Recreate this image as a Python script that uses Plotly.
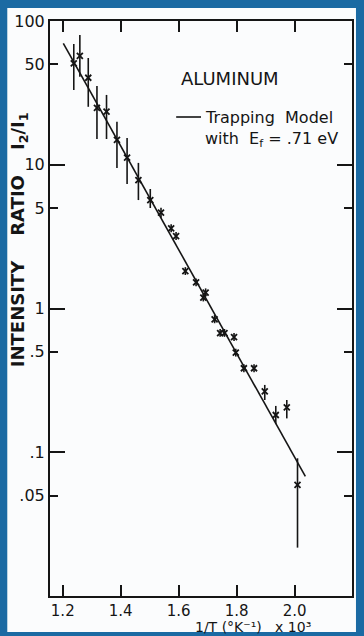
import plotly.graph_objects as go

# ---- data ----
inv_t = [1.238, 1.259, 1.288, 1.318, 1.351, 1.387, 1.422, 1.461, 1.502, 1.539,
         1.574, 1.591, 1.623, 1.660, 1.693, 1.685, 1.724, 1.743, 1.758, 1.791,
         1.797, 1.825, 1.860, 1.897, 1.935, 1.973, 2.010]
ratio = [50.8, 57.1, 40.3, 24.9, 23.4, 14.9, 11.2, 7.83, 5.68, 4.64,
         3.61, 3.19, 1.82, 1.52, 1.29, 1.19, 0.841, 0.675, 0.675, 0.633,
         0.493, 0.384, 0.384, 0.265, 0.1816, 0.2055, 0.0592]
err_top = [69.2, 79.9, 55.3, 35.3, 30.6, 19.9, 15.35, 10.3, 6.78, 5.03,
           3.85, 3.40, 1.94, 1.62, 1.38, 1.27, 0.90, 0.72, 0.72, 0.675,
           0.525, 0.41, 0.41, 0.294, 0.21, 0.231, 0.0908]
err_bot = [33.1, 41.0, 25.3, 15.1, 15.1, 9.49, 7.35, 5.68, 5.00, 4.28,
           3.39, 3.00, 1.71, 1.43, 1.21, 1.12, 0.79, 0.635, 0.635, 0.595,
           0.463, 0.36, 0.36, 0.231, 0.157, 0.172, 0.0217]

model_x = [1.202, 2.037]
model_y = [70.0, 0.068]

x_ticks = [1.2, 1.4, 1.6, 1.8, 2.0]
x_ticktext = ["1.2", "1.4", "1.6", "1.8", "2.0"]
y_ticks = [0.05, 0.1, 0.5, 1, 5, 10, 50, 100]
y_ticktext = [".05", ".1", ".5", "1", "5", "10", "50", "100"]
y_decades = [0.1, 1, 10]

# ---- figure ----
W, H = 364, 636
L, R, T, B = 50, 10, 21, 40
PW, PH = W - L - R, H - T - B


def px(x):
    return (x - L) / PW


def py(y):
    return 1 - (y - T) / PH


ink = "#151515"
font = "DejaVu Sans"

fig = go.Figure()

fig.add_trace(go.Scatter(
    x=model_x, y=model_y, mode="lines",
    line=dict(color=ink, width=1.6), hoverinfo="skip", showlegend=False))

fig.add_trace(go.Scatter(
    x=inv_t, y=ratio, mode="markers",
    marker=dict(symbol="x-thin", size=6, line=dict(color=ink, width=1.8), color=ink),
    error_y=dict(type="data", symmetric=False,
                 array=[t - v for t, v in zip(err_top, ratio)],
                 arrayminus=[v - b for v, b in zip(ratio, err_bot)],
                 color=ink, thickness=1.6, width=0),
    showlegend=False))

fig.update_xaxes(
    type="linear", range=[1.156, 2.198],
    tickmode="array", tickvals=x_ticks, ticktext=x_ticktext,
    ticks="inside", ticklen=11, tickwidth=1.6, tickcolor=ink,
    showline=True, linewidth=2, linecolor=ink, mirror="allticks",
    showgrid=False, zeroline=False,
    tickfont=dict(family=font, size=15, color=ink))

fig.update_yaxes(
    type="log", range=[-2, 2],
    tickmode="array", tickvals=y_ticks, ticktext=y_ticktext,
    ticks="inside", ticklen=8, tickwidth=1.6, tickcolor=ink,
    minor=dict(tickmode="array", tickvals=y_decades, ticks="inside",
               ticklen=15, tickwidth=1.6, tickcolor=ink, showgrid=False),
    showline=True, linewidth=2, linecolor=ink, mirror="allticks",
    showgrid=False, zeroline=False,
    tickfont=dict(family=font, size=16, color=ink))

annotations = [
    dict(text="<b>INTENSITY    RATIO    I<sub>2</sub>/I<sub>1</sub></b>", x=px(19), y=py(240),
         textangle=-90, font=dict(family=font, size=18, color=ink)),
    dict(text="1/T (°K⁻¹)   x 10³", x=px(254), y=py(627),
         font=dict(family=font, size=14, color=ink)),
    dict(text="ALUMINUM", x=px(231), y=py(78),
         font=dict(family=font, size=18, color=ink)),
    dict(text="Trapping  Model", x=px(204), y=py(117), xanchor="left",
         font=dict(family=font, size=16, color=ink)),
    dict(text="with  E<sub>f</sub> = .71 eV", x=px(204), y=py(139), xanchor="left",
         font=dict(family=font, size=16, color=ink)),
]
for a in annotations:
    a.update(xref="paper", yref="paper", showarrow=False)
    a.setdefault("xanchor", "center")
    a.setdefault("yanchor", "middle")

shapes = [
    dict(type="rect", xref="paper", yref="paper", layer="below",
         x0=px(7), x1=px(358), y0=py(632), y1=py(8),
         fillcolor="#fbfcfd", line=dict(width=0)),
    dict(type="line", xref="paper", yref="paper",
         x0=px(177), x1=px(202), y0=py(117), y1=py(117),
         line=dict(color=ink, width=1.6)),
]

fig.update_layout(
    width=W, height=H,
    margin=dict(l=L, r=R, t=T, b=B),
    paper_bgcolor="#1b6aa3",
    plot_bgcolor="rgba(0,0,0,0)",
    annotations=annotations, shapes=shapes,
    showlegend=False,
)

fig.write_html("out.html")
